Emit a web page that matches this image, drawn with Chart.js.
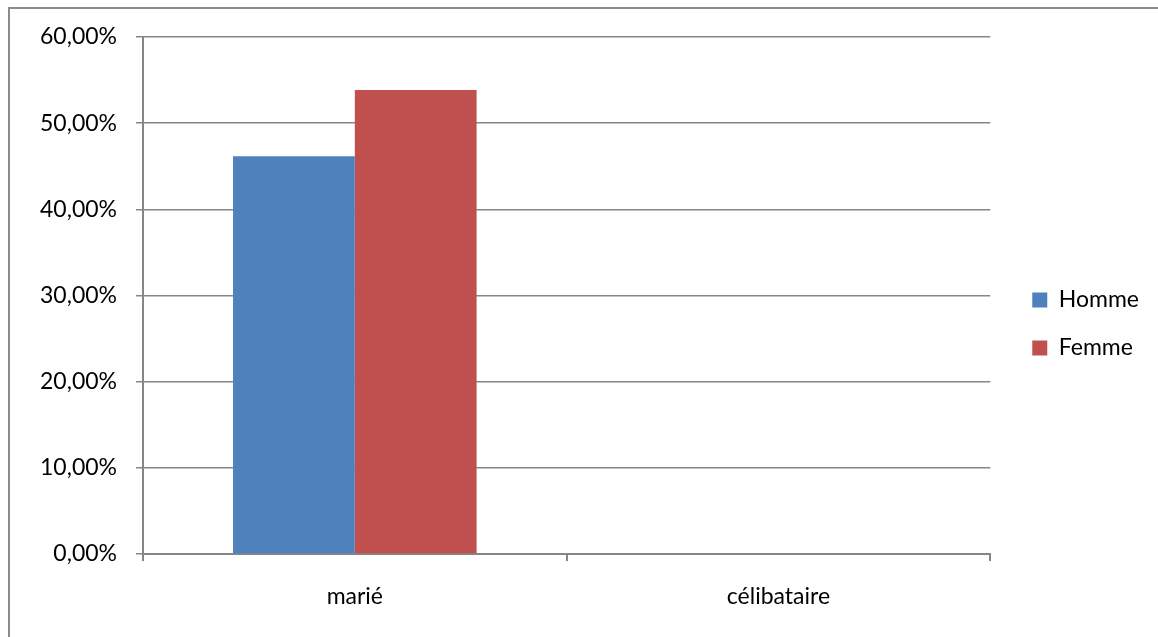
<!DOCTYPE html>
<html>
<head>
<meta charset="utf-8">
<script src="https://cdn.jsdelivr.net/npm/chart.js@4/dist/chart.umd.min.js"></script>
<style>
    html, body { margin: 0; padding: 0; background: #fff; overflow: hidden; }
    .frame {
        position: absolute; left: 8px; top: 7px; width: 1300px; height: 800px;
        border-left: 2px solid #8c8c8c; border-top: 2px solid #8c8c8c;
    }
    #chart { position: absolute; left: 0; top: 0; }
</style>
</head>
<body>
<div class="frame"></div>
<canvas id="chart" width="1158" height="637"></canvas>
<script>
var categories = ['marié', 'célibataire'];
var homme = [46.15, 0];
var femme = [53.85, 0];
var yTicks = [0, 10, 20, 30, 40, 50, 60];

var axisGray = '#868686';
var font = { family: 'Lato', size: 23 };

function pct(v) {
    return v.toFixed(2).replace('.', ',') + '%';
}

var ctx = document.getElementById('chart');

var chart = new Chart(ctx, {
    type: 'bar',
    data: {
        labels: categories,
        datasets: [
            {
                label: 'Homme',
                backgroundColor: '#4f81bd',
                borderWidth: 0,
                data: homme,
            },
            {
                label: 'Femme',
                backgroundColor: '#c0504d',
                borderWidth: 0,
                data: femme,
            },
        ],
    },
    options: {
        responsive: false,
        animation: false,
        devicePixelRatio: 1,
        layout: { padding: { left: 30, top: 37, right: 9, bottom: 26 } },
        categoryPercentage: 0.575,
        barPercentage: 1,
        plugins: {
            tooltip: { enabled: false },
            legend: {
                position: 'right',
                align: 'center',
                labels: {
                    color: '#000',
                    font: font,
                    boxWidth: 15,
                    boxHeight: 15,
                    padding: 25,
                },
            },
        },
        scales: {
            x: {
                offset: true,
                grid: {
                    display: true,
                    drawOnChartArea: false,
                    offset: true,
                    color: axisGray,
                    tickLength: 7,
                    lineWidth: 2,
                },
                border: { color: axisGray, width: 2 },
                ticks: { color: '#000', font: font, padding: 22 },
                afterFit: function(scale) {
                    scale.height = 57;
                },
            },
            y: {
                min: 0,
                max: 60,
                afterBuildTicks: function(scale) {
                    scale.ticks = yTicks.map(function(v) { return { value: v }; });
                },
                afterFit: function(scale) {
                    scale.width = 113;
                },
                grid: { color: axisGray, lineWidth: 1.5, tickLength: 7 },
                border: { color: axisGray, width: 2 },
                ticks: {
                    color: '#000',
                    font: font,
                    padding: 19,
                    callback: function(v) { return pct(v); },
                },
            },
            // empty band between the plot and the legend
            gap: {
                type: 'linear',
                position: 'right',
                grid: { display: false },
                border: { display: false },
                ticks: { display: false },
                afterFit: function(scale) {
                    scale.width = 17;
                },
            },
        },
    },
});
</script>
</body>
</html>
